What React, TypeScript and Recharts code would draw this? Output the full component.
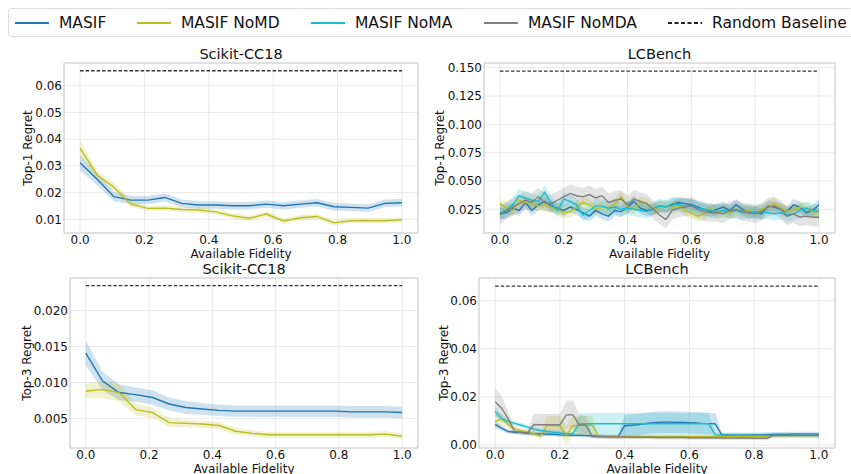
import { ComposedChart, Line, Area, XAxis, YAxis, CartesianGrid, ReferenceLine, ReferenceArea } from 'recharts';

const FONT = '"DejaVu Sans", sans-serif';

const SERIES_NAMES = ['MASIF', 'MASIF NoMD', 'MASIF NoMA', 'MASIF NoMDA'];
const SERIES_COLORS = ['#1f77b4', '#bcbd22', '#17becf', '#7f7f7f'];
const BASELINE_NAME = 'Random Baseline';

const xTicks = [0, 0.2, 0.4, 0.6, 0.8, 1.0];

// Scikit-CC18 has 20 fidelity steps
const scikitFidelity = [0, 0.053, 0.105, 0.158, 0.211, 0.263, 0.316, 0.368, 0.421, 0.474, 0.526, 0.579, 0.632, 0.684, 0.737, 0.789, 0.842, 0.895, 0.947, 1.0];

// LCBench has 51 fidelity steps
const lcFidelity = [0, 0.02, 0.04, 0.06, 0.08, 0.1, 0.12, 0.14, 0.16, 0.18, 0.2, 0.22, 0.24, 0.26, 0.28, 0.3, 0.32, 0.34, 0.36, 0.38, 0.4, 0.42, 0.44, 0.46, 0.48, 0.5, 0.52, 0.54, 0.56, 0.58, 0.6, 0.62, 0.64, 0.66, 0.68, 0.7, 0.72, 0.74, 0.76, 0.78, 0.8, 0.82, 0.84, 0.86, 0.88, 0.9, 0.92, 0.94, 0.96, 0.98, 1.0];

// Scikit-CC18 top-1
const sk1Masif = [0.0312, 0.0250, 0.0185, 0.0172, 0.0172, 0.0182, 0.0160, 0.0154, 0.0154, 0.0151, 0.0151, 0.0157, 0.0151, 0.0157, 0.0162, 0.0147, 0.0145, 0.0142, 0.0160, 0.0162];
const sk1MasifSd = [0.0030, 0.0022, 0.0017, 0.0015, 0.0015, 0.0015, 0.0014, 0.0014, 0.0014, 0.0014, 0.0014, 0.0014, 0.0014, 0.0014, 0.0014, 0.0014, 0.0014, 0.0014, 0.0014, 0.0014];
const sk1NoMD = [0.0366, 0.0266, 0.0220, 0.0157, 0.0141, 0.0142, 0.0137, 0.0135, 0.0128, 0.0113, 0.0104, 0.0120, 0.0094, 0.0106, 0.0111, 0.0087, 0.0095, 0.0095, 0.0095, 0.0098];
const sk1NoMDSd = [0.0030, 0.0018, 0.0015, 0.0011, 0.0010, 0.0010, 0.0010, 0.0010, 0.0010, 0.0010, 0.0010, 0.0010, 0.0010, 0.0010, 0.0010, 0.0009, 0.0009, 0.0009, 0.0009, 0.0009];
const sk1Baseline = 0.0656;

// Scikit-CC18 top-3
const sk3Masif = [0.0141, 0.0102, 0.0086, 0.0083, 0.0079, 0.0070, 0.0065, 0.0063, 0.0061, 0.0060, 0.0060, 0.0060, 0.0060, 0.0060, 0.0060, 0.0060, 0.0059, 0.0059, 0.0059, 0.0058];
const sk3MasifSd = [0.0017, 0.0013, 0.0011, 0.0010, 0.0010, 0.0009, 0.0009, 0.0008, 0.0008, 0.0008, 0.0008, 0.0008, 0.0008, 0.0008, 0.0008, 0.0008, 0.0008, 0.0008, 0.0008, 0.0008];
const sk3NoMD = [0.0088, 0.0090, 0.0086, 0.0062, 0.0058, 0.0044, 0.0043, 0.0042, 0.0040, 0.0032, 0.0029, 0.0027, 0.0027, 0.0027, 0.0027, 0.0027, 0.0027, 0.0027, 0.0028, 0.0025];
const sk3NoMDSd = [0.0010, 0.0012, 0.0012, 0.0008, 0.0007, 0.0006, 0.0005, 0.0005, 0.0005, 0.0005, 0.0004, 0.0004, 0.0004, 0.0004, 0.0004, 0.0004, 0.0004, 0.0004, 0.0004, 0.0004];
const sk3Baseline = 0.0235;

// LCBench top-1
const lc1Masif = [0.021, 0.022, 0.026, 0.024, 0.031, 0.024, 0.029, 0.032, 0.028, 0.026, 0.024, 0.027, 0.025, 0.022, 0.019, 0.024, 0.021, 0.019, 0.024, 0.023, 0.027, 0.032, 0.026, 0.024, 0.025, 0.028, 0.027, 0.029, 0.031, 0.030, 0.029, 0.027, 0.025, 0.023, 0.025, 0.027, 0.024, 0.029, 0.025, 0.022, 0.023, 0.021, 0.028, 0.027, 0.025, 0.023, 0.029, 0.027, 0.022, 0.024, 0.029];
const lc1NoMD = [0.030, 0.026, 0.024, 0.033, 0.031, 0.030, 0.028, 0.029, 0.027, 0.025, 0.022, 0.023, 0.027, 0.031, 0.029, 0.025, 0.027, 0.026, 0.030, 0.036, 0.027, 0.026, 0.031, 0.030, 0.025, 0.027, 0.028, 0.026, 0.029, 0.024, 0.022, 0.019, 0.021, 0.026, 0.022, 0.024, 0.022, 0.025, 0.023, 0.024, 0.022, 0.025, 0.027, 0.030, 0.026, 0.023, 0.025, 0.027, 0.026, 0.023, 0.021];
const lc1NoMA = [0.022, 0.024, 0.029, 0.037, 0.035, 0.033, 0.032, 0.040, 0.031, 0.024, 0.034, 0.032, 0.029, 0.020, 0.024, 0.028, 0.028, 0.026, 0.027, 0.025, 0.026, 0.025, 0.024, 0.023, 0.026, 0.028, 0.027, 0.030, 0.029, 0.028, 0.028, 0.026, 0.025, 0.024, 0.023, 0.024, 0.023, 0.024, 0.022, 0.023, 0.022, 0.023, 0.022, 0.021, 0.022, 0.020, 0.021, 0.024, 0.026, 0.024, 0.023];
const lc1NoMDA = [0.020, 0.024, 0.027, 0.030, 0.033, 0.031, 0.036, 0.031, 0.030, 0.033, 0.036, 0.039, 0.037, 0.036, 0.038, 0.035, 0.037, 0.031, 0.033, 0.034, 0.029, 0.034, 0.032, 0.030, 0.025, 0.020, 0.016, 0.024, 0.026, 0.027, 0.028, 0.025, 0.023, 0.022, 0.022, 0.021, 0.024, 0.025, 0.023, 0.022, 0.021, 0.023, 0.027, 0.028, 0.025, 0.019, 0.021, 0.018, 0.019, 0.018, 0.018];
const lc1Sd = [0.005, 0.005, 0.006, 0.008];
const lc1Baseline = 0.147;

// LCBench top-3
const lc3Masif = [0.0086, 0.0070, 0.0056, 0.0053, 0.0052, 0.0049, 0.0047, 0.0046, 0.0045, 0.0044, 0.0042, 0.0041, 0.0040, 0.0040, 0.0039, 0.0038, 0.0037, 0.0036, 0.0036, 0.0035, 0.0080, 0.0082, 0.0084, 0.0088, 0.0092, 0.0094, 0.0095, 0.0095, 0.0094, 0.0094, 0.0093, 0.0092, 0.0090, 0.0089, 0.0088, 0.0042, 0.0042, 0.0042, 0.0041, 0.0041, 0.0042, 0.0042, 0.0043, 0.0044, 0.0044, 0.0044, 0.0045, 0.0045, 0.0045, 0.0045, 0.0045];
const lc3MasifSd = [0.0015, 0.0012, 0.0008, 0.0008, 0.0008, 0.0008, 0.0008, 0.0008, 0.0008, 0.0008, 0.0008, 0.0008, 0.0008, 0.0008, 0.0008, 0.0008, 0.0008, 0.0008, 0.0008, 0.0008, 0.0045, 0.0045, 0.0045, 0.0045, 0.0045, 0.0045, 0.0045, 0.0045, 0.0045, 0.0045, 0.0045, 0.0045, 0.0045, 0.0045, 0.0045, 0.0010, 0.0010, 0.0010, 0.0010, 0.0010, 0.0010, 0.0010, 0.0010, 0.0010, 0.0010, 0.0010, 0.0010, 0.0010, 0.0010, 0.0010, 0.0010];
const lc3NoMD = [0.0098, 0.0108, 0.0085, 0.0068, 0.0060, 0.0053, 0.0046, 0.0037, 0.0081, 0.0081, 0.0080, 0.0040, 0.0080, 0.0082, 0.0083, 0.0082, 0.0036, 0.0035, 0.0035, 0.0035, 0.0035, 0.0035, 0.0035, 0.0035, 0.0035, 0.0035, 0.0035, 0.0035, 0.0035, 0.0035, 0.0035, 0.0035, 0.0035, 0.0035, 0.0035, 0.0035, 0.0035, 0.0035, 0.0035, 0.0035, 0.0035, 0.0035, 0.0035, 0.0039, 0.0039, 0.0039, 0.0039, 0.0039, 0.0039, 0.0039, 0.0039];
const lc3NoMDSd = [0.0030, 0.0025, 0.0015, 0.0010, 0.0010, 0.0010, 0.0010, 0.0010, 0.0040, 0.0040, 0.0040, 0.0040, 0.0040, 0.0040, 0.0040, 0.0040, 0.0008, 0.0008, 0.0008, 0.0008, 0.0008, 0.0008, 0.0008, 0.0008, 0.0008, 0.0008, 0.0008, 0.0008, 0.0008, 0.0008, 0.0008, 0.0008, 0.0008, 0.0008, 0.0008, 0.0008, 0.0008, 0.0008, 0.0008, 0.0008, 0.0008, 0.0008, 0.0008, 0.0008, 0.0008, 0.0008, 0.0008, 0.0008, 0.0008, 0.0008, 0.0008];
const lc3NoMA = [0.0139, 0.0110, 0.0098, 0.0090, 0.0082, 0.0074, 0.0066, 0.0060, 0.0056, 0.0053, 0.0050, 0.0048, 0.0047, 0.0088, 0.0089, 0.0088, 0.0088, 0.0088, 0.0088, 0.0088, 0.0088, 0.0088, 0.0088, 0.0088, 0.0088, 0.0088, 0.0088, 0.0088, 0.0088, 0.0088, 0.0088, 0.0088, 0.0088, 0.0088, 0.0042, 0.0041, 0.0041, 0.0041, 0.0041, 0.0041, 0.0040, 0.0040, 0.0040, 0.0040, 0.0040, 0.0040, 0.0040, 0.0040, 0.0040, 0.0040, 0.0040];
const lc3NoMASd = [0.0020, 0.0015, 0.0010, 0.0010, 0.0010, 0.0010, 0.0010, 0.0010, 0.0010, 0.0010, 0.0010, 0.0010, 0.0010, 0.0045, 0.0045, 0.0045, 0.0045, 0.0045, 0.0045, 0.0045, 0.0045, 0.0045, 0.0045, 0.0045, 0.0045, 0.0045, 0.0045, 0.0045, 0.0045, 0.0045, 0.0045, 0.0045, 0.0045, 0.0045, 0.0008, 0.0008, 0.0008, 0.0008, 0.0008, 0.0008, 0.0008, 0.0008, 0.0008, 0.0008, 0.0008, 0.0008, 0.0008, 0.0008, 0.0008, 0.0008, 0.0008];
const lc3NoMDA = [0.0180, 0.0153, 0.0110, 0.0056, 0.0053, 0.0050, 0.0085, 0.0084, 0.0084, 0.0084, 0.0084, 0.0125, 0.0125, 0.0084, 0.0082, 0.0035, 0.0034, 0.0034, 0.0033, 0.0033, 0.0033, 0.0032, 0.0032, 0.0032, 0.0032, 0.0031, 0.0031, 0.0031, 0.0031, 0.0031, 0.0030, 0.0030, 0.0030, 0.0030, 0.0030, 0.0029, 0.0029, 0.0029, 0.0029, 0.0029, 0.0028, 0.0028, 0.0028, 0.0040, 0.0040, 0.0040, 0.0040, 0.0040, 0.0040, 0.0040, 0.0040];
const lc3NoMDASd = [0.0060, 0.0050, 0.0030, 0.0010, 0.0010, 0.0010, 0.0045, 0.0045, 0.0045, 0.0045, 0.0045, 0.0060, 0.0060, 0.0040, 0.0040, 0.0008, 0.0008, 0.0008, 0.0008, 0.0008, 0.0008, 0.0008, 0.0008, 0.0008, 0.0008, 0.0008, 0.0008, 0.0008, 0.0008, 0.0008, 0.0008, 0.0008, 0.0008, 0.0008, 0.0008, 0.0008, 0.0008, 0.0008, 0.0008, 0.0008, 0.0008, 0.0008, 0.0008, 0.0010, 0.0010, 0.0010, 0.0010, 0.0010, 0.0010, 0.0010, 0.0010];
const lc3Baseline = 0.066;

type Series = { idx: number; mean: number[]; sd: number[] | number };

function buildRows(fid: number[], series: Series[]) {
  return fid.map((x, i) => {
    const row: any = { x };
    series.forEach((s) => {
      const sd = Array.isArray(s.sd) ? s.sd[i] : s.sd;
      row['m' + s.idx] = s.mean[i];
      row['b' + s.idx] = [s.mean[i] - sd, s.mean[i] + sd];
    });
    return row;
  });
}

type PanelProps = {
  left: number;
  top: number;
  width: number;
  height: number;
  yWidth: number;
  right: number;
  bottom: number;
  fid: number[];
  series: Series[];
  yDomain: [number, number];
  yTicks: number[];
  yDigits: number;
  baseline: number;
  title: string;
  yLabel: string;
  yLabelOffset: number;
};

const TOP_MARGIN = 23;
const X_AXIS_H = 20;

function Panel(p: PanelProps) {
  const rows = buildRows(p.fid, p.series);
  const plotLeft = p.left + p.yWidth;
  const plotW = p.width - p.yWidth - p.right;
  const plotTop = p.top + TOP_MARGIN;
  const plotH = p.height - TOP_MARGIN - p.bottom - X_AXIS_H;
  const cx = plotLeft + plotW / 2;
  const txt = { position: 'absolute' as const, fontFamily: FONT, color: '#111', whiteSpace: 'nowrap' as const, lineHeight: 1 };
  return (
    <>
      <div style={{ position: 'absolute', left: p.left, top: p.top }}>
        <ComposedChart
          width={p.width}
          height={p.height}
          data={rows}
          margin={{ top: TOP_MARGIN, right: p.right, bottom: p.bottom, left: 0 }}
        >
          <CartesianGrid stroke="#e8e8e8" strokeWidth={1} />
          <XAxis
            dataKey="x"
            type="number"
            domain={[-0.05, 1.05]}
            ticks={xTicks}
            allowDataOverflow
            tickFormatter={(v: number) => v.toFixed(1)}
            tick={{ fontSize: 12, fill: '#111', fontFamily: FONT }}
            tickLine={false}
            axisLine={false}
            tickSize={0}
            tickMargin={2.5}
            height={X_AXIS_H}
          />
          <YAxis
            type="number"
            domain={p.yDomain}
            ticks={p.yTicks}
            allowDataOverflow
            tickFormatter={(v: number) => v.toFixed(p.yDigits)}
            tick={{ fontSize: 12, fill: '#111', fontFamily: FONT }}
            tickLine={false}
            axisLine={false}
            tickSize={0}
            tickMargin={2}
            width={p.yWidth}
          />
          <ReferenceArea
            x1={-0.05}
            x2={1.05}
            y1={p.yDomain[0]}
            y2={p.yDomain[1]}
            fill="none"
            stroke="#cccccc"
            strokeWidth={1}
            ifOverflow="visible"
          />
          {p.series.map((s) => (
            <Area
              key={'b' + s.idx}
              dataKey={'b' + s.idx}
              stroke="none"
              fill={SERIES_COLORS[s.idx]}
              fillOpacity={0.22}
              isAnimationActive={false}
              activeDot={false}
            />
          ))}
          {p.series.map((s) => (
            <Line
              key={'m' + s.idx}
              dataKey={'m' + s.idx}
              stroke={SERIES_COLORS[s.idx]}
              strokeWidth={1.4}
              dot={false}
              activeDot={false}
              isAnimationActive={false}
            />
          ))}
          <ReferenceLine
            segment={[{ x: 0, y: p.baseline }, { x: 1, y: p.baseline }]}
            stroke="#333"
            strokeWidth={1.3}
            strokeDasharray="3.5 2"
          />
        </ComposedChart>
      </div>
      <div style={{ ...txt, left: cx, top: plotTop - 9, fontSize: 14.5, transform: 'translate(-50%, -50%)' }}>{p.title}</div>
      <div style={{ ...txt, left: cx, top: plotTop + plotH + 20.5, fontSize: 12, transform: 'translate(-50%, -50%)' }}>
        Available Fidelity
      </div>
      <div
        style={{
          ...txt,
          left: plotLeft - p.yLabelOffset,
          top: plotTop + plotH / 2,
          fontSize: 12,
          transform: 'translate(-50%, -50%) rotate(-90deg)',
        }}
      >
        {p.yLabel}
      </div>
    </>
  );
}

const LEGEND_OFFSETS = [6, 128, 302, 475, 659];

function LegendBar() {
  const items = [
    ...SERIES_NAMES.map((n, i) => ({ name: n, color: SERIES_COLORS[i], dash: '' })),
    { name: BASELINE_NAME, color: '#222', dash: '4 2.5' },
  ];
  return (
    <div
      style={{
        position: 'absolute',
        left: 8,
        top: 8,
        width: 850,
        height: 29,
        border: '1px solid #dddddd',
        borderRadius: 3,
        boxSizing: 'border-box',
        fontFamily: FONT,
        fontSize: 15.5,
        color: '#111',
      }}
    >
      {items.map((it, i) => (
        <div
          key={it.name}
          style={{
            position: 'absolute',
            left: LEGEND_OFFSETS[i],
            top: 0,
            height: 27,
            display: 'flex',
            alignItems: 'center',
          }}
        >
          <svg width={34} height={6} style={{ marginRight: 10 }}>
            <line x1={0} y1={3} x2={34} y2={3} stroke={it.color} strokeWidth={2} strokeDasharray={it.dash || undefined} />
          </svg>
          <span style={{ whiteSpace: 'nowrap' }}>{it.name}</span>
        </div>
      ))}
    </div>
  );
}

export default function App() {
  const sk1: Series[] = [
    { idx: 0, mean: sk1Masif, sd: sk1MasifSd },
    { idx: 1, mean: sk1NoMD, sd: sk1NoMDSd },
  ];
  const sk3: Series[] = [
    { idx: 0, mean: sk3Masif, sd: sk3MasifSd },
    { idx: 1, mean: sk3NoMD, sd: sk3NoMDSd },
  ];
  const lc1: Series[] = [
    { idx: 0, mean: lc1Masif, sd: lc1Sd[0] },
    { idx: 1, mean: lc1NoMD, sd: lc1Sd[1] },
    { idx: 2, mean: lc1NoMA, sd: lc1Sd[2] },
    { idx: 3, mean: lc1NoMDA, sd: lc1Sd[3] },
  ];
  const lc3: Series[] = [
    { idx: 0, mean: lc3Masif, sd: lc3MasifSd },
    { idx: 1, mean: lc3NoMD, sd: lc3NoMDSd },
    { idx: 2, mean: lc3NoMA, sd: lc3NoMASd },
    { idx: 3, mean: lc3NoMDA, sd: lc3NoMDASd },
  ];
  return (
    <div style={{ position: 'absolute', left: 0, top: 0, width: 851, height: 474, background: '#fff', overflow: 'hidden' }}>
      <LegendBar />
      <Panel
        left={0} top={40} width={420} height={230} yWidth={64} right={2} bottom={17}
        fid={scikitFidelity} series={sk1}
        yDomain={[0.0049, 0.0685]} yTicks={[0.01, 0.02, 0.03, 0.04, 0.05, 0.06]} yDigits={2}
        baseline={sk1Baseline} title="Scikit-CC18" yLabel="Top-1 Regret" yLabelOffset={36}
      />
      <Panel
        left={420} top={40} width={431} height={230} yWidth={64} right={16} bottom={17}
        fid={lcFidelity} series={lc1}
        yDomain={[0.0041, 0.1541]} yTicks={[0.025, 0.05, 0.075, 0.1, 0.125, 0.15]} yDigits={3}
        baseline={lc1Baseline} title="LCBench" yLabel="Top-1 Regret" yLabelOffset={44}
      />
      <Panel
        left={0} top={255} width={420} height={215} yWidth={70} right={2} bottom={2}
        fid={scikitFidelity} series={sk3}
        yDomain={[0.00086, 0.02456]} yTicks={[0.005, 0.01, 0.015, 0.02]} yDigits={3}
        baseline={sk3Baseline} title="Scikit-CC18" yLabel="Top-3 Regret" yLabelOffset={43}
      />
      <Panel
        left={420} top={255} width={431} height={215} yWidth={59} right={16} bottom={2}
        fid={lcFidelity} series={lc3}
        yDomain={[-0.00125, 0.0694]} yTicks={[0, 0.02, 0.04, 0.06]} yDigits={2}
        baseline={lc3Baseline} title="LCBench" yLabel="Top-3 Regret" yLabelOffset={35.5}
      />
    </div>
  );
}
